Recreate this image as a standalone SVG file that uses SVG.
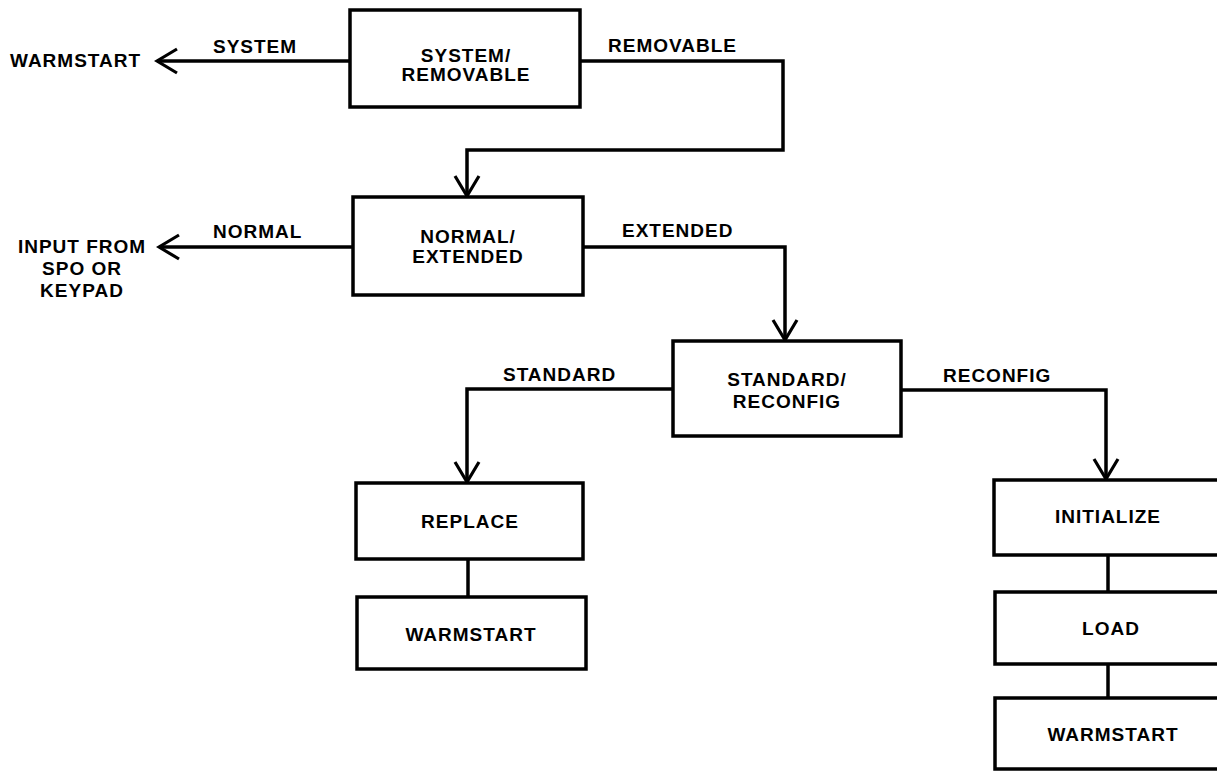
<svg xmlns="http://www.w3.org/2000/svg" width="1217" height="772" viewBox="0 0 1217 772">
<style>
.box{fill:#fff;stroke:#000;stroke-width:3.5}
.ln{fill:none;stroke:#000;stroke-width:3.5}
.t{font-family:"Liberation Sans",Arial,sans-serif;font-weight:bold;font-size:19px;letter-spacing:1px;fill:#000}
.c{text-anchor:middle}
</style>
<defs>
<marker id="arr" viewBox="-24 -15 27 30" refX="0" refY="0" markerWidth="27" markerHeight="30" markerUnits="userSpaceOnUse" orient="auto">
<path d="M-20,-12 L0,0 L-20,12" fill="none" stroke="#000" stroke-width="3.2"/>
</marker>
</defs>
<rect width="1217" height="772" fill="#fff"/>
<g id="connectors">
<path class="ln" d="M350,61 H157" marker-end="url(#arr)"/>
<path class="ln" d="M580,61 H783 V150 H467 V196" marker-end="url(#arr)"/>
<path class="ln" d="M353,247 H159" marker-end="url(#arr)"/>
<path class="ln" d="M583,247 H785 V340" marker-end="url(#arr)"/>
<path class="ln" d="M673,389 H467 V482" marker-end="url(#arr)"/>
<path class="ln" d="M901,390 H1106 V479" marker-end="url(#arr)"/>
<path class="ln" d="M468,559 V597"/>
<path class="ln" d="M1108,555 V592"/>
<path class="ln" d="M1108,664 V698"/>
<text class="t" x="213" y="53">SYSTEM</text>
<text class="t" x="608" y="52">REMOVABLE</text>
<text class="t" x="213" y="238">NORMAL</text>
<text class="t" x="622" y="237">EXTENDED</text>
<text class="t" x="503" y="381">STANDARD</text>
<text class="t" x="943" y="382">RECONFIG</text>
</g>
<g id="warmstart-out">
<text class="t" x="10" y="67">WARMSTART</text>
</g>
<g id="input-out">
<text class="t c" x="82" y="253">INPUT FROM</text>
<text class="t c" x="82" y="275">SPO OR</text>
<text class="t c" x="82" y="297">KEYPAD</text>
</g>
<g id="system-removable">
<rect class="box" x="350" y="10" width="230" height="97"/>
<text class="t c" x="466" y="62">SYSTEM/</text>
<text class="t c" x="466" y="81">REMOVABLE</text>
</g>
<g id="normal-extended">
<rect class="box" x="353" y="197" width="230" height="98"/>
<text class="t c" x="468" y="243">NORMAL/</text>
<text class="t c" x="468" y="263">EXTENDED</text>
</g>
<g id="standard-reconfig">
<rect class="box" x="673" y="341" width="228" height="95"/>
<text class="t c" x="787" y="386">STANDARD/</text>
<text class="t c" x="787" y="408">RECONFIG</text>
</g>
<g id="replace">
<rect class="box" x="356" y="483" width="227" height="76"/>
<text class="t c" x="470" y="528">REPLACE</text>
</g>
<g id="warmstart-a">
<rect class="box" x="357" y="597" width="229" height="72"/>
<text class="t c" x="471" y="641">WARMSTART</text>
</g>
<g id="initialize">
<rect class="box" x="994" y="480" width="240" height="75"/>
<text class="t c" x="1108" y="523">INITIALIZE</text>
</g>
<g id="load">
<rect class="box" x="995" y="592" width="240" height="72"/>
<text class="t c" x="1111" y="635">LOAD</text>
</g>
<g id="warmstart-b">
<rect class="box" x="995" y="698" width="240" height="71"/>
<text class="t c" x="1113" y="741">WARMSTART</text>
</g>
</svg>
